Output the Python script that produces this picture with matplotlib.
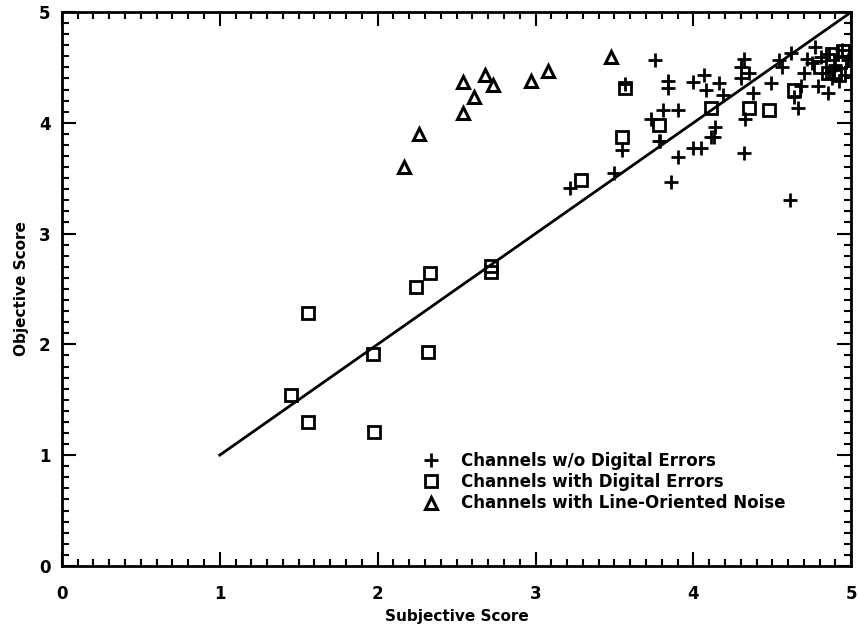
import matplotlib
matplotlib.use("Agg")
import matplotlib.pyplot as plt
from matplotlib.ticker import MultipleLocator

# Channels without digital errors (+)
plus_x = [3.22, 3.50, 3.55, 3.57, 3.76, 3.78, 3.81, 3.73, 3.84, 3.84, 3.90, 3.90, 3.86,
          4.00, 4.00, 4.05, 4.08, 4.07, 4.13, 4.14, 4.16, 4.19, 4.32, 4.61, 4.30, 4.32,
          4.35, 4.30, 4.38, 4.33, 4.49, 4.54, 4.56, 4.62, 4.64, 4.66, 4.68, 4.77, 4.75,
          4.81, 4.79, 4.85, 4.89, 4.94, 4.98, 4.96, 4.84, 4.88, 4.90, 4.92, 4.86, 4.70,
          4.72, 4.11, 3.79]
plus_y = [3.41, 3.55, 3.75, 4.35, 4.57, 3.84, 4.12, 4.03, 4.38, 4.31, 4.12, 3.69, 3.47,
          4.37, 3.77, 3.77, 4.30, 4.43, 3.87, 3.96, 4.36, 4.25, 3.73, 3.30, 4.50, 4.58,
          4.45, 4.40, 4.27, 4.03, 4.36, 4.57, 4.50, 4.63, 4.23, 4.13, 4.33, 4.68, 4.54,
          4.59, 4.33, 4.27, 4.48, 4.66, 4.57, 4.43, 4.45, 4.40, 4.52, 4.38, 4.62, 4.45,
          4.58, 3.87, 3.84]

# Channels with digital errors (squares)
sq_x = [1.45, 1.56, 1.56, 1.97, 1.98, 2.24, 2.33, 2.32, 2.72, 2.72, 3.29, 3.55, 3.57,
        3.78, 4.11, 4.35, 4.48, 4.64, 4.80, 4.88, 4.93, 4.95, 4.85, 4.90]
sq_y = [1.54, 1.30, 2.28, 1.91, 1.21, 2.52, 2.64, 1.93, 2.71, 2.65, 3.48, 3.87, 4.31,
        3.98, 4.13, 4.13, 4.12, 4.30, 4.50, 4.62, 4.55, 4.65, 4.45, 4.45]

# Channels with line-oriented noise (triangles)
tri_x = [2.17, 2.26, 2.54, 2.54, 2.61, 2.68, 2.73, 2.97, 3.08, 3.48]
tri_y = [3.60, 3.90, 4.09, 4.37, 4.23, 4.43, 4.34, 4.38, 4.47, 4.59]

# Reference line
fit_x = [1, 5]
fit_y = [1, 5]

plt.rcParams['font.family'] = ['DejaVu Sans']
fig = plt.figure(figsize=(8.59, 6.33), dpi=100)
ax = fig.add_axes([0.072, 0.106, 0.919, 0.875])

ax.plot(fit_x, fit_y, color='black', lw=2)
ax.plot(plus_x, plus_y, linestyle='none', marker='+', ms=10, mew=2, color='black',
        label='Channels w/o Digital Errors')
ax.plot(sq_x, sq_y, linestyle='none', marker='s', ms=8.5, mew=2, mfc='none', mec='black',
        label='Channels with Digital Errors')
ax.plot(tri_x, tri_y, linestyle='none', marker='^', ms=9, mew=2.2, mfc='none', mec='black',
        label='Channels with Line-Oriented Noise')

ax.set_xlim(0, 5)
ax.set_ylim(0, 5)
ax.xaxis.set_major_locator(MultipleLocator(1))
ax.yaxis.set_major_locator(MultipleLocator(1))
ax.xaxis.set_minor_locator(MultipleLocator(0.1))
ax.yaxis.set_minor_locator(MultipleLocator(0.1))
ax.tick_params(which='both', direction='in', top=True, right=True, width=1.5)
ax.tick_params(which='major', length=10, labelsize=12)
ax.tick_params(which='minor', length=5)
for lbl in ax.get_xticklabels() + ax.get_yticklabels():
    lbl.set_fontweight('bold')
ax.tick_params(axis='x', pad=14)
ax.tick_params(axis='y', pad=8)
for s in ax.spines.values():
    s.set_linewidth(2)

ax.set_xlabel('Subjective Score', fontsize=11, fontweight='bold', labelpad=4)
ax.set_ylabel('Objective Score', fontsize=11, fontweight='bold', labelpad=7)

leg = ax.legend(loc='upper left', bbox_to_anchor=(0.447, 0.218), frameon=False,
                fontsize=12, handletextpad=1.2, labelspacing=0.2, handlelength=1.2,
                borderaxespad=0)
for t in leg.get_texts():
    t.set_fontweight('bold')

fig.savefig('out.png', dpi=100)
